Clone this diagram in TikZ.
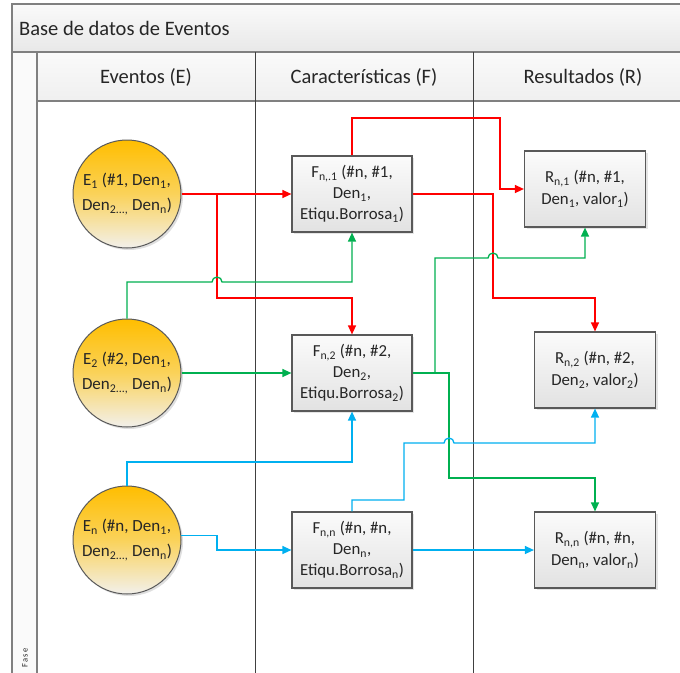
\documentclass[tikz,border=0pt]{standalone}
\usepackage{fontspec}
\setmainfont{Carlito}
\usetikzlibrary{arrows.meta,shadows}
\definecolor{lnred}{RGB}{255,0,0}
\definecolor{lngreen}{RGB}{0,176,80}
\definecolor{lnblue}{RGB}{0,176,240}
\definecolor{frameg}{RGB}{128,128,128}
\definecolor{boxline}{RGB}{89,89,89}
\definecolor{divline}{RGB}{64,64,64}
\definecolor{circtop}{RGB}{255,190,0}
\definecolor{circmid}{RGB}{250,210,90}
\definecolor{circbot}{RGB}{242,240,235}
\definecolor{boxtop}{RGB}{251,251,251}
\definecolor{boxbot}{RGB}{226,226,226}
\definecolor{bartop}{RGB}{250,250,250}
\definecolor{barbot}{RGB}{232,232,232}
\definecolor{txt}{RGB}{38,38,38}
\tikzset{
  tip/.style={-{Triangle[length=9pt,width=8pt]}},
  conn/.style={line width=1.3pt, tip},
  redl/.style={conn, draw=lnred},
  greenl/.style={conn, draw=lngreen},
  bluel/.style={conn, draw=lnblue},
  evt/.style={circle, draw=boxline, line width=1pt, minimum size=108pt, inner sep=0pt,
    align=center, text=txt, font=\fontsize{17}{25}\selectfont,
    top color=circtop, bottom color=circbot, middle color=circmid,
    drop shadow={shadow xshift=2pt, shadow yshift=-2pt, opacity=0.25, fill=gray}},
  fbox/.style={rectangle, draw=boxline, line width=1.2pt, minimum width=120pt, minimum height=76pt,
    inner sep=0pt, align=center, text=txt, font=\fontsize{16.8}{21}\selectfont,
    top color=boxtop, bottom color=boxbot,
    drop shadow={shadow xshift=2pt, shadow yshift=-2pt, opacity=0.2, fill=gray}},
  rbox/.style={fbox, minimum width=121pt, font=\fontsize{16.8}{22}\selectfont},
  hdr/.style={text=txt, font=\fontsize{20.5}{24}\selectfont, inner sep=0pt},
}
\begin{document}
\begin{tikzpicture}[x=1pt,y=1pt]
\useasboundingbox (0,0) rectangle (680,-672);
\clip (0,0) rectangle (680,-672);
\fill[white] (0,0) rectangle (680,-672);
% frame
\draw[frameg, line width=1.2pt, top color=bartop, bottom color=barbot] (12,-4) rectangle (700,-52);
\draw[frameg, line width=1.2pt, fill=bartop] (12,-52) rectangle (37,-700);
\draw[frameg, line width=1.2pt, top color=bartop, bottom color=barbot!60!bartop] (37,-52) rectangle (700,-101);
\draw[divline, line width=1pt] (255,-52) -- (255,-700);
\draw[divline, line width=1pt] (473,-52) -- (473,-700);
% headers
\node[hdr, anchor=west] (title) at (19,-28) {Base de datos de Eventos};
\node[hdr] (hE) at (146,-77) {Eventos (E)};
\node[hdr] (hF) at (364,-77) {Características (F)};
\node[hdr] (hR) at (583,-77) {Resultados (R)};
\node[text=txt, font=\fontsize{8.5}{9}\selectfont, rotate=90, inner sep=0pt] (fase) at (25,-658) {F\,a\,s\,e};
% nodes
\node[evt] (E1) at (127,-194) {E\textsubscript{1} (\#1, Den\textsubscript{1},\\Den\textsubscript{2...,} Den\textsubscript{n})};
\node[evt] (E2) at (127,-373) {E\textsubscript{2} (\#2, Den\textsubscript{1},\\Den\textsubscript{2...,} Den\textsubscript{n})};
\node[evt] (En) at (127,-540) {E\textsubscript{n} (\#n, Den\textsubscript{1},\\Den\textsubscript{2...,} Den\textsubscript{n})};
\node[fbox] (F1) at (352,-194) {F\textsubscript{n,.1} (\#n, \#1,\\Den\textsubscript{1},\\Etiqu.Borrosa\textsubscript{1})};
\node[fbox] (F2) at (352,-373) {F\textsubscript{n,2} (\#n, \#2,\\Den\textsubscript{2},\\Etiqu.Borrosa\textsubscript{2})};
\node[fbox] (Fn) at (352,-550) {F\textsubscript{n,n} (\#n, \#n,\\Den\textsubscript{n},\\Etiqu.Borrosa\textsubscript{n})};
\node[rbox] (R1) at (585,-189) {R\textsubscript{n,1} (\#n, \#1,\\Den\textsubscript{1}, valor\textsubscript{1})};
\node[rbox] (R2) at (595,-370) {R\textsubscript{n,2} (\#n, \#2,\\Den\textsubscript{2}, valor\textsubscript{2})};
\node[rbox] (Rn) at (595,-550) {R\textsubscript{n,n} (\#n, \#n,\\Den\textsubscript{n}, valor\textsubscript{n})};
% branch points
\coordinate (rb) at (217,-194);
\coordinate (gb) at (435,-373);
% red
\draw[redl] (E1.east) -- (F1.west);
\draw[redl] (rb) -- (217,-298) -| (F2.north);
\draw[redl] (F1.north) |- (500,-118) |- (R1.west);
\draw[redl] (F1.east) -| (493,-298) -| (R2.north);
% green
\draw[greenl] (E2.north) |- (212,-282) arc[start angle=180,end angle=0,radius=5] -| (F1.south);
\draw[greenl] (E2.east) -- (F2.west);
\draw[greenl] (F2.east) -| (449,-478) -| (Rn.north);
\draw[greenl] (gb) |- (488,-258) arc[start angle=180,end angle=0,radius=5] -| (R1.south);
% blue
\draw[bluel] (En.north) -- (127,-462) -| (F2.south);
\draw[bluel] (En.5) -| (217,-550) -- (Fn.west);
\draw[bluel] (Fn.north) |- (404,-500) |- (444,-443) arc[start angle=180,end angle=0,radius=5] -| (R2.south);
\draw[bluel] (Fn.east) -- (Rn.west);
\end{tikzpicture}
\end{document}
